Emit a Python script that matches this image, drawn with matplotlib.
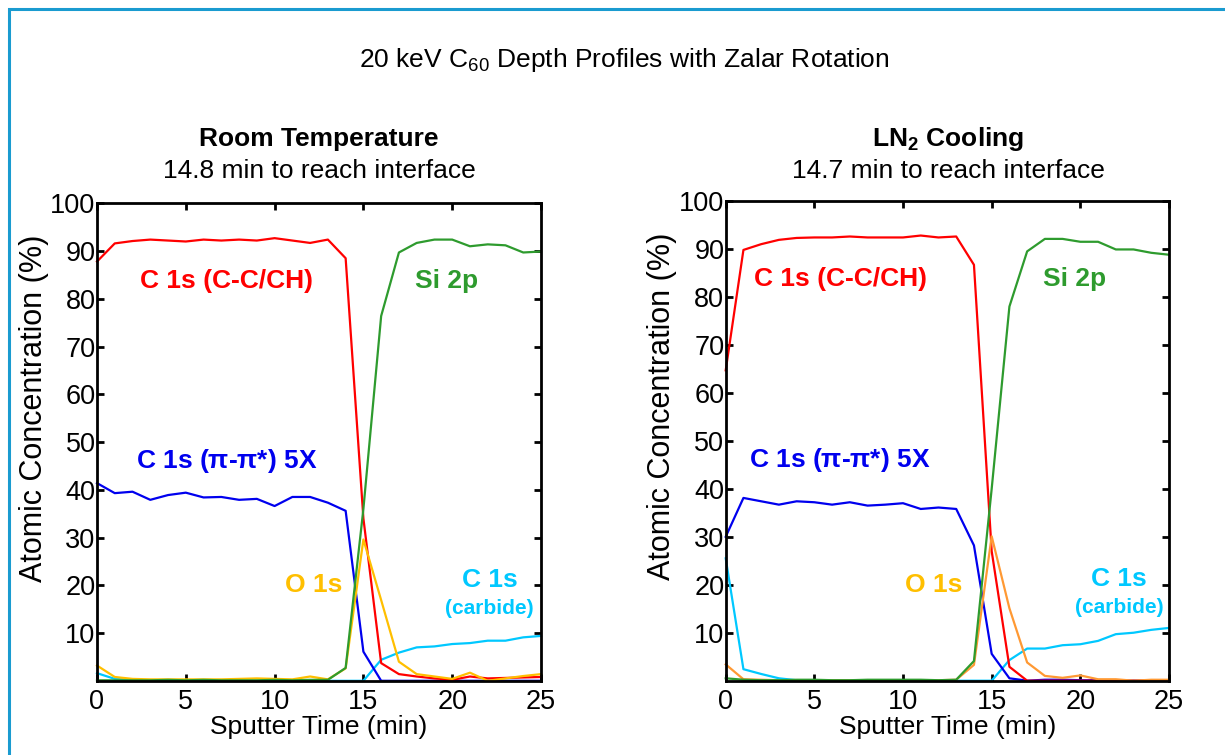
import matplotlib
matplotlib.use("Agg")
import matplotlib.pyplot as plt
from matplotlib.patches import Rectangle

plt.rcParams['font.family'] = ['Liberation Sans', 'DejaVu Sans']
plt.rcParams['mathtext.fontset'] = 'custom'
plt.rcParams['mathtext.rm'] = 'Liberation Sans'
plt.rcParams['mathtext.bf'] = 'Liberation Sans:bold'

time = list(range(26))

# Room temperature
rt_c_cc = [87.8, 91.6, 92.1, 92.4, 92.2, 92.0, 92.4, 92.2, 92.4, 92.2, 92.7, 92.2, 91.7, 92.4, 88.5,
           34.0, 3.7, 1.4, 0.9, 0.5, 0.2, 0.9, 0.5, 0.6, 0.7, 0.8]
rt_si = [0.1, 0.1, 0.1, 0.1, 0.2, 0.1, 0.2, 0.1, 0.1, 0.1, 0.2, 0.1, 0.2, 0.2, 2.7,
         36.0, 76.4, 89.7, 91.7, 92.4, 92.4, 91.0, 91.4, 91.2, 89.7, 89.9]
rt_pi = [41.4, 39.3, 39.6, 37.9, 38.9, 39.4, 38.4, 38.5, 37.9, 38.1, 36.6, 38.5, 38.5, 37.3, 35.6,
         6.1, 0.0, 0.0, 0.0, 0.0, 0.0, 0.0, 0.0, 0.0, 0.0, 0.0]
rt_o = [3.2, 0.8, 0.4, 0.3, 0.3, 0.3, 0.3, 0.3, 0.4, 0.5, 0.4, 0.3, 0.9, 0.3, 2.6,
        29.6, 16.9, 4.0, 1.4, 0.9, 0.4, 1.7, 0.0, 0.5, 1.0, 1.4]
rt_carb = [1.6, 0.4, 0.2, 0.1, 0.1, 0.0, 0.0, 0.0, 0.0, 0.0, 0.0, 0.0, 0.0, 0.0, 0.0,
           0.0, 4.4, 5.9, 7.0, 7.2, 7.7, 7.9, 8.4, 8.4, 9.1, 9.4]

# LN2 cooling
ln_c_cc = [64.7, 89.8, 91.0, 91.9, 92.3, 92.4, 92.4, 92.6, 92.4, 92.4, 92.4, 92.8, 92.4, 92.6, 86.7,
           27.0, 2.9, 0.0, 0.0, 0.0, 0.0, 0.0, 0.0, 0.0, 0.0, 0.0]
ln_si = [0.5, 0.2, 0.1, 0.1, 0.2, 0.2, 0.1, 0.1, 0.2, 0.2, 0.2, 0.2, 0.1, 0.2, 4.1,
         40.0, 78.0, 89.5, 92.1, 92.1, 91.5, 91.5, 89.9, 89.9, 89.2, 88.8]
ln_pi = [30.0, 38.1, 37.4, 36.7, 37.4, 37.2, 36.7, 37.2, 36.5, 36.7, 37.0, 35.8, 36.1, 35.8, 28.2,
         5.6, 0.5, 0.0, 0.2, 0.2, 0.1, 0.1, 0.0, 0.0, 0.0, 0.0]
ln_o = [3.4, 0.3, 0.2, 0.1, 0.1, 0.1, 0.1, 0.1, 0.1, 0.1, 0.1, 0.1, 0.1, 0.2, 3.3,
        30.1, 15.1, 3.8, 1.0, 0.6, 1.1, 0.3, 0.3, 0.0, 0.2, 0.2]
ln_carb = [25.5, 2.4, 1.4, 0.5, 0.1, 0.0, 0.0, 0.0, 0.0, 0.0, 0.0, 0.0, 0.0, 0.0, 0.0,
           0.0, 4.3, 6.7, 6.7, 7.4, 7.6, 8.3, 9.7, 10.0, 10.6, 11.0]

x_ticks = [0, 5, 10, 15, 20, 25]
y_ticks = [10, 20, 30, 40, 50, 60, 70, 80, 90, 100]

RED = '#FF0000'
GREEN = '#2E9B2E'
BLUE = '#0000EE'
GOLD = '#FFBF00'
ORANGE = '#FF9933'
CYAN = '#00C8FF'

fig = plt.figure(figsize=(12.25, 7.55), dpi=100)

# frame border
fig.patches.append(Rectangle((9 / 1225, -0.1), 1.2, 1 - 9 / 755 + 0.1,
                             transform=fig.transFigure, fill=False,
                             edgecolor='#1A9BD0', linewidth=2.2))

fig.text(0.51, 1 - 60 / 755, r'20 keV C$_{\mathregular{60}}$ Depth Profiles with Zalar Rotation',
         ha='center', va='center', fontsize=19)

ax1 = fig.add_axes([97 / 1225, 1 - 680.8 / 755, 444 / 1225, 477.5 / 755])
ax2 = fig.add_axes([725.7 / 1225, 1 - 680.7 / 755, 443.3 / 1225, 479.7 / 755])

def style(ax, ylab_x):
    ax.set_xlim(0, 25)
    ax.set_ylim(0, 100)
    ax.set_xticks(x_ticks)
    ax.set_yticks(y_ticks)
    ax.tick_params(direction='in', length=5, width=2, top=True, right=True,
                   labelsize=19.5)
    ax.tick_params(axis='x', pad=6)
    ax.tick_params(axis='y', pad=1)
    for s in ax.spines.values():
        s.set_linewidth(2)
    ax.set_xlabel('Sputter Time (min)', fontsize=19, labelpad=0)
    ax.set_ylabel('Atomic Concentration (%)', fontsize=22)
    ax.yaxis.set_label_coords(ylab_x, 0.571)

lw = 1.6
ax1.plot(time, rt_carb, color=CYAN, lw=lw, clip_on=False)
ax1.plot(time, rt_pi, color=BLUE, lw=lw, clip_on=False)
ax1.plot(time, rt_c_cc, color=RED, lw=lw, clip_on=False)
ax1.plot(time, rt_o, color=GOLD, lw=lw, clip_on=False)
ax1.plot(time, rt_si, color=GREEN, lw=lw, clip_on=False)
style(ax1, -0.108)

ax2.plot(time, ln_carb, color=CYAN, lw=lw, clip_on=False)
ax2.plot(time, ln_pi, color=BLUE, lw=lw, clip_on=False)
ax2.plot(time, ln_c_cc, color=RED, lw=lw, clip_on=False)
ax2.plot(time, ln_o, color=ORANGE, lw=lw, clip_on=False)
ax2.plot(time, ln_si, color=GREEN, lw=lw, clip_on=False)
style(ax2, -0.110)

def labels(ax, cx, sx, px, ox, kx):
    kw = dict(ha='center', va='center', fontweight='bold', fontsize=19)
    ax.text(cx, 83.7, 'C 1s (C-C/CH)', color=RED, **kw)
    ax.text(sx, 83.7, 'Si 2p', color=GREEN, **kw)
    ax.text(px, 46.0, r'C 1s ($\mathbf{\pi}$-$\mathbf{\pi}$*) 5X', color=BLUE, **kw)
    ax.text(ox, 20.0, 'O 1s', color=GOLD, **kw)
    ax.text(kx, 21.1, 'C 1s', color=CYAN, **kw)
    ax.text(kx, 15.2, '(carbide)', color=CYAN, ha='center', va='center',
            fontweight='bold', fontsize=15)

labels(ax1, 7.3, 19.7, 7.3, 12.2, 22.1)
labels(ax2, 6.5, 19.7, 6.45, 11.75, 22.2)

fig.text(319 / 1225, 1 - 139 / 755, 'Room Temperature', ha='center', va='center',
         fontsize=19, fontweight='bold')
fig.text(319 / 1225, 1 - 171 / 755, '14.8 min to reach interface', ha='center', va='center',
         fontsize=19)
fig.text(948 / 1225, 1 - 139 / 755, r'LN$_{\mathbf{2}}$ Cooling', ha='center', va='center',
         fontsize=19, fontweight='bold')
fig.text(948 / 1225, 1 - 171 / 755, '14.7 min to reach interface', ha='center', va='center',
         fontsize=19)

fig.savefig('out.png', dpi=100)
